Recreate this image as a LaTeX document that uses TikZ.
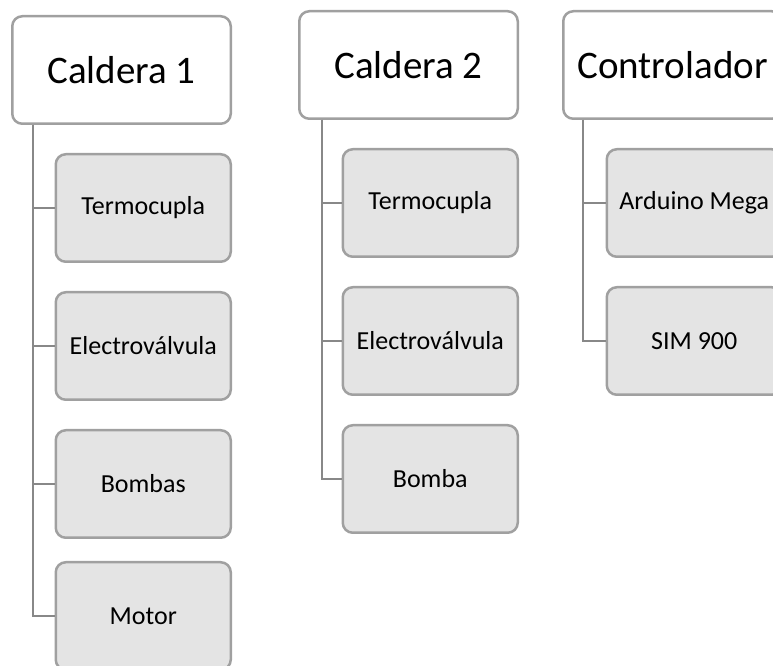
\documentclass[tikz,border=0pt]{standalone}
\usepackage{fontspec}
\setmainfont{Carlito}
\usepackage{tikz}
\definecolor{boxline}{RGB}{160,160,160}
\definecolor{boxfill}{RGB}{228,228,228}
\definecolor{treeline}{RGB}{136,136,136}
\tikzstyle{parent}=[draw=boxline, line width=2.5pt, rounded corners=10pt, fill=white, minimum width=218.5pt, minimum height=107.5pt, font=\fontsize{39}{47}\selectfont]
\tikzstyle{item}=[draw=boxline, line width=2.5pt, rounded corners=10pt, fill=boxfill, minimum width=175pt, minimum height=107.5pt, font=\fontsize{26}{31}\selectfont]
\tikzstyle{link}=[draw=treeline, line width=2.5pt]
\usetikzlibrary{positioning}

\begin{document}
\begin{tikzpicture}[x=1pt,y=1pt,node distance=28pt]
\useasboundingbox (0,0) rectangle (773,666);
\clip (0,0) rectangle (773,666);
\node (cal1) [parent] at (121.5,596) {Caldera 1};
\node (cal2) [parent] at (408.5,601) {Caldera 2};
\node (ctrl) [parent] at (672.5,601) {Controlador};
\node (term1) [item,below left=28pt and 0pt of cal1.south east] {Termocupla};
\node (valv1) [item,below=of term1] {Electroválvula};
\node (bomb1) [item,below=of valv1] {Bombas};
\node (mot1) [item,below=22pt of bomb1] {Motor};
\node (term2) [item,below left=28pt and 0pt of cal2.south east] {Termocupla};
\node (valv2) [item,below=of term2] {Electroválvula};
\node (bomb2) [item,below=of valv2] {Bomba};
\node (ard) [item,below left=28pt and 0pt of ctrl.south east] {Arduino Mega};
\node (sim) [item,below=of ard] {SIM 900};
\foreach \c in {term1,valv1,bomb1,mot1}
  \draw[link] ([xshift=22pt]cal1.south west) |- (\c.west);
\foreach \c in {term2,valv2,bomb2}
  \draw[link] ([xshift=24pt]cal2.south west) |- (\c.west);
\foreach \c in {ard,sim}
  \draw[link] ([xshift=21pt]ctrl.south west) |- (\c.west);
\end{tikzpicture}
\end{document}
